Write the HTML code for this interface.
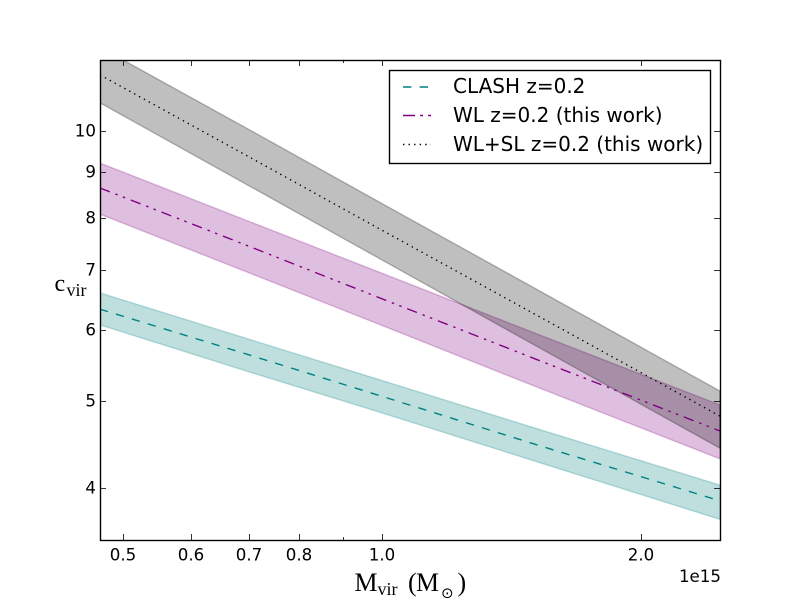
<!DOCTYPE html>
<html>
<head>
<meta charset="utf-8">
<title>Mass-concentration relation</title>
<style>
html,body{margin:0;padding:0;background:#fff;width:800px;height:600px;overflow:hidden}
svg{display:block}
text{font-family:"DejaVu Sans","Liberation Sans",sans-serif;fill:#000}
.tick{font-size:16.67px}
.leg{font-size:20px}
.math{font-family:"Liberation Serif","DejaVu Serif",serif}
</style>
</head>
<body>
<svg id="chart" xmlns="http://www.w3.org/2000/svg" width="800" height="600" viewBox="0 0 800 600">
<defs><clipPath id="plot-clip"><rect x="100" y="60" width="620" height="480"/></clipPath></defs>
<rect x="0" y="0" width="800" height="600" fill="#fff"/>
<g id="bands" clip-path="url(#plot-clip)"></g>
<g id="lines" clip-path="url(#plot-clip)"></g>
<g id="ticks"></g>
<rect x="100.5" y="60.5" width="620" height="480" fill="none" stroke="#000" stroke-width="1.39"/>
<g id="tick-labels"></g>
<text class="tick" x="721" y="582" text-anchor="end">1e15</text>
<text class="math" font-size="26px"><tspan x="354.5" y="591" textLength="23" lengthAdjust="spacingAndGlyphs">M</tspan><tspan x="377.5" y="595" font-size="18px">vir</tspan><tspan x="408" y="591">(</tspan><tspan x="416" y="591" textLength="23" lengthAdjust="spacingAndGlyphs">M</tspan><tspan x="441" y="598" font-size="15px" style="font-family:'DejaVu Sans',sans-serif">⊙</tspan><tspan x="457.5" y="591">)</tspan></text>
<text class="math" font-size="24px"><tspan x="54.5" y="291">c</tspan><tspan x="66.5" y="296" font-size="18px">vir</tspan></text>
<g>
<rect x="389.5" y="70.5" width="321" height="93" fill="#fff" stroke="#000" stroke-width="1.39"/>
<line x1="403" x2="431" y1="87" y2="87" stroke="#008080" stroke-width="1.39" stroke-dasharray="8.33 8.33"/>
<text class="leg" x="453" y="93">CLASH z=0.2</text>
<line x1="403" x2="431" y1="115.5" y2="115.5" stroke="#800080" stroke-width="1.39" stroke-dasharray="12 5 3 5 3 6"/>
<text class="leg" x="453" y="122">WL z=0.2 (this work)</text>
<line x1="403" x2="431" y1="144.5" y2="144.5" stroke="#000" stroke-width="1.39" stroke-dasharray="1.39 4.17"/>
<text class="leg" x="453" y="151">WL+SL z=0.2 (this work)</text>
</g>
</svg>
<script>
var masses = [0.47, 0.7, 1.0, 1.5, 2.47];
var clashCenter = [6.33, 5.63, 5.06, 4.48, 3.87];
var clashUpper = [6.60, 5.86, 5.27, 4.67, 4.03];
var clashLower = [6.08, 5.39, 4.85, 4.29, 3.69];
var wlCenter = [8.64, 7.44, 6.50, 5.58, 4.63];
var wlUpper = [9.21, 7.93, 6.94, 5.96, 4.95];
var wlLower = [8.08, 6.95, 6.07, 5.20, 4.31];
var wlslCenter = [11.55, 9.36, 7.75, 6.26, 4.81];
var wlslUpper = [12.40, 10.04, 8.30, 6.69, 5.13];
var wlslLower = [10.75, 8.69, 7.18, 5.78, 4.43];
var xMajorTicks = [0.5, 0.6, 0.7, 0.8, 1.0, 2.0];
var xTickLabels = ['0.5', '0.6', '0.7', '0.8', '1.0', '2.0'];
var xMinorTicks = [0.9];
var yMajorTicks = [4, 5, 6, 7, 8, 9, 10];
var yTickLabels = ['4', '5', '6', '7', '8', '9', '10'];

var SVGNS = 'http://www.w3.org/2000/svg';
function xScale(v) { return 100 + 620 * Math.log(v / 0.47) / Math.log(2.47 / 0.47); }
function yScale(v) { return 540 - 480 * Math.log(v / 3.5) / Math.log(12 / 3.5); }
function pointList(xs, ys) {
  return xs.map(function (m, i) { return xScale(m).toFixed(2) + ',' + yScale(ys[i]).toFixed(2); });
}
function make(tag, parentId) {
  var el = document.createElementNS(SVGNS, tag);
  document.getElementById(parentId).appendChild(el);
  return el;
}
function drawBand(upper, lower, color, name) {
  var el = make('polygon', 'bands');
  
  
  el.setAttribute('points', pointList(masses, upper).concat(pointList(masses, lower).reverse()).join(' '));
  el.setAttribute('fill', color);
  el.setAttribute('fill-opacity', '0.25');
  el.setAttribute('stroke', color);
  el.setAttribute('stroke-opacity', '0.25');
  el.setAttribute('stroke-width', '1.39');
}
function drawLine(values, color, dash, name) {
  var el = make('polyline', 'lines');
  
  
  el.setAttribute('points', pointList(masses, values).join(' '));
  el.setAttribute('fill', 'none');
  el.setAttribute('stroke', color);
  el.setAttribute('stroke-width', '1.39');
  el.setAttribute('stroke-dasharray', dash);
}
function drawTick(x1, y1, x2, y2) {
  var el = make('line', 'ticks');
  
  
  el.setAttribute('x1', x1);
  el.setAttribute('y1', y1);
  el.setAttribute('x2', x2);
  el.setAttribute('y2', y2);
  el.setAttribute('stroke', '#000');
  el.setAttribute('stroke-width', '0.8');
}
function drawLabel(text, x, y, anchor, name) {
  var el = make('text', 'tick-labels');
  
  
  el.setAttribute('class', 'tick');
  el.setAttribute('x', x);
  el.setAttribute('y', y);
  el.setAttribute('text-anchor', anchor);
  el.textContent = text;
}

drawBand(clashUpper, clashLower, '#008080', 'band-clash');
drawBand(wlUpper, wlLower, '#800080', 'band-wl');
drawBand(wlslUpper, wlslLower, '#000000', 'band-wl-sl');
drawLine(clashCenter, '#008080', '8.33 8.33', 'line-clash');
drawLine(wlCenter, '#800080', '10.5 6 2.5 5.5 2.5 6', 'line-wl');
drawLine(wlslCenter, '#000000', '1.39 4.17', 'line-wl-sl');

xMajorTicks.forEach(function (v, i) {
  var x = Math.round(xScale(v)) + 0.5;
  drawTick(x, 540, x, 534);
  drawTick(x, 60, x, 66);
  drawLabel(xTickLabels[i], x - 0.5, 560.5, 'middle', 'x-tick-label');
});
xMinorTicks.forEach(function (v) {
  var x = Math.round(xScale(v)) + 0.5;
  drawTick(x, 540, x, 537);
  drawTick(x, 60, x, 63);
});
yMajorTicks.forEach(function (v, i) {
  var y = Math.round(yScale(v)) + 0.5;
  drawTick(100, y, 106, y);
  drawTick(720, y, 714, y);
  drawLabel(yTickLabels[i], 96, y + 5, 'end', 'y-tick-label');
});
</script>
</body>
</html>
